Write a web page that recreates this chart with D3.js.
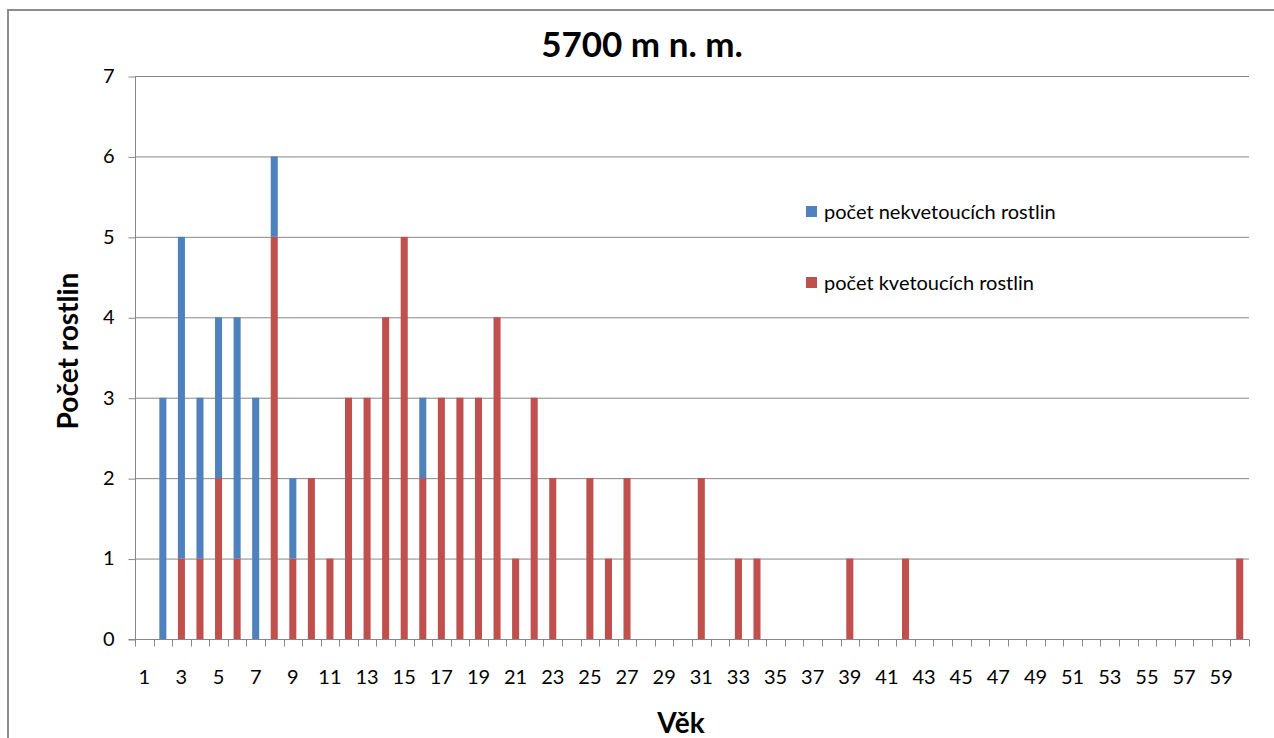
<!DOCTYPE html>
<html>
<head>
<meta charset="utf-8">
<script src="https://cdn.jsdelivr.net/npm/d3@7"></script>
<style>
  html, body { margin: 0; padding: 0; background: #fff; }
  svg { display: block; }
  text { font-family: Lato, "Open Sans", sans-serif; fill: #000; }
</style>
</head>
<body>
<svg id="chart" width="1274" height="738"></svg>
<script>
// Age classes 1..60
const ages = d3.range(1, 61);
// flowering plants per age (red, bottom of stack)
const flowering = [0,0,1,1,2,1,0,5,1,2, 1,3,3,4,5,2,3,3,3,4, 1,3,2,0,2,1,2,0,0,0, 2,0,1,1,0,0,0,0,1,0, 0,1,0,0,0,0,0,0,0,0, 0,0,0,0,0,0,0,0,0,1];
// non-flowering plants per age (blue, top of stack)
const nonFlowering = [0,3,4,2,2,3,3,1,1,0, 0,0,0,0,0,1,0,0,0,0, 0,0,0,0,0,0,0,0,0,0, 0,0,0,0,0,0,0,0,0,0, 0,0,0,0,0,0,0,0,0,0, 0,0,0,0,0,0,0,0,0,0];
const yTicks = [0,1,2,3,4,5,6,7];
const seriesNames = ["počet nekvetoucích rostlin", "počet kvetoucích rostlin"];
const colors = { nonFlowering: "#4F81BD", flowering: "#C0504D" };

const svg = d3.select("#chart");
const W = 1274, H = 738;
const m = { left: 135, right: 1249, top: 76, bottom: 639 };

// outer chart frame
svg.append("rect")
  .attr("x", 8).attr("y", 10).attr("width", W + 20).attr("height", H + 20)
  .attr("fill", "none").attr("stroke", "#8c8c8c").attr("stroke-width", 2);

const x = d3.scaleBand().domain(ages).range([m.left, m.right]).paddingInner(0.62).paddingOuter(0.31);
const xOuter = d3.scaleBand().domain(ages).range([m.left, m.right]);
const y = d3.scaleLinear().domain([0, 7]).range([m.bottom, m.top]);

// horizontal gridlines
svg.append("g").selectAll("line").data(yTicks.filter(d => d > 0)).join("line")
  .attr("x1", m.left).attr("x2", m.right)
  .attr("y1", d => y(d) + 0.5).attr("y2", d => y(d) + 0.5)
  .attr("stroke", "#878787").attr("stroke-width", 1);

// stacked bars
const rows = ages.map((a, i) => ({ age: a, flowering: flowering[i], nonFlowering: nonFlowering[i] }));
const stack = d3.stack().keys(["flowering", "nonFlowering"])(rows);
svg.append("g").selectAll("g").data(stack).join("g")
  .attr("fill", d => colors[d.key])
  .selectAll("rect").data(d => d).join("rect")
  .attr("x", d => x(d.data.age))
  .attr("width", x.bandwidth())
  .attr("y", d => y(d[1]))
  .attr("height", d => y(d[0]) - y(d[1]));

// y axis
const yAxis = svg.append("g").attr("transform", `translate(${m.left + 0.5},0)`)
  .call(d3.axisLeft(y).tickValues(yTicks).tickSize(7).tickPadding(14).tickFormat(d3.format("d")));
yAxis.select(".domain").attr("stroke", "#878787").attr("d", `M-7,${m.bottom + 0.5}H0V${m.top}`);
yAxis.selectAll(".tick line").attr("stroke", "#878787").attr("transform", "translate(0,0.5)");
yAxis.selectAll(".tick text").attr("font-size", 20).attr("font-family", "Lato, sans-serif").attr("fill", "#000");

// x axis: ticks at category boundaries, labels on odd ages
const xAxis = svg.append("g").attr("transform", `translate(0,${m.bottom + 0.5})`);
xAxis.append("line").attr("x1", m.left).attr("x2", m.right).attr("stroke", "#878787");
const bounds = ages.map(a => xOuter(a)).concat([m.right]);
xAxis.selectAll("line.tk").data(bounds).join("line").attr("class", "tk")
  .attr("x1", d => Math.round(d) + 0.5).attr("x2", d => Math.round(d) + 0.5)
  .attr("y1", 0).attr("y2", 7).attr("stroke", "#878787");
xAxis.selectAll("text").data(ages.filter(a => a % 2 === 1)).join("text")
  .attr("x", a => xOuter(a) + xOuter.bandwidth() / 2)
  .attr("y", 44).attr("text-anchor", "middle").attr("font-size", 20)
  .text(d => d);

// titles
svg.append("text").attr("x", 642).attr("y", 57).attr("text-anchor", "middle")
  .attr("font-size", 35).attr("font-weight", "bold").text("5700 m n. m.");
svg.append("text").attr("x", 681).attr("y", 733).attr("text-anchor", "middle")
  .attr("font-size", 28).attr("font-weight", "bold").text("Věk");
svg.append("text").attr("transform", "translate(78,351) rotate(-90)").attr("text-anchor", "middle")
  .attr("font-size", 28).attr("font-weight", "bold").text("Počet rostlin");

// legend
const legend = svg.append("g");
const legendItems = [
  { name: seriesNames[0], color: colors.nonFlowering, y: 212 },
  { name: seriesNames[1], color: colors.flowering, y: 283 }
];
legend.selectAll("rect").data(legendItems).join("rect")
  .attr("x", 806).attr("y", d => d.y - 6).attr("width", 11).attr("height", 11)
  .attr("fill", d => d.color);
legend.selectAll("text").data(legendItems).join("text")
  .attr("x", 824).attr("y", d => d.y + 7).attr("font-size", 20)
  .text(d => d.name);
</script>
</body>
</html>
